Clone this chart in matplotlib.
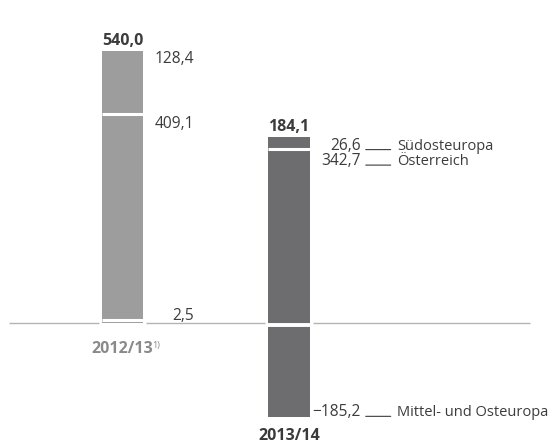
import matplotlib
matplotlib.use('Agg')
import matplotlib.pyplot as plt
from matplotlib.transforms import offset_copy
import numpy as np

# data (Mio. EUR)
years = ['2012/13', '2013/14']
footnotes = ['1)', '']
regions = ['Mittel- und Osteuropa', 'Österreich', 'Südosteuropa']
mittel_osteuropa = [2.5, -185.2]
oesterreich = [409.1, 342.7]
suedosteuropa = [128.4, 26.6]
totals = [540.0, 184.1]

bar_colors = ['#9d9d9d', '#6d6d6f']
year_colors = ['#8a8a8a', '#3a3a3a']
text_color = '#3c3c3c'
line_color = '#b4b4b4'

plt.rcParams['font.family'] = ['Open Sans', 'DejaVu Sans']
FS = 10.5       # region names
FS_NUM = 11.2   # values
FS_BOLD = 11.5  # totals and years

fig = plt.figure(figsize=(5.53, 4.43), dpi=100)
ax = fig.add_axes([0, 0, 1, 1])
ax.set_xlim(-0.736, 2.586)
ax.set_ylim(-237.0, 640.2)
ax.axis('off')

px_per_unit = 443 / (640.2 + 237.0)


def shift(dx, dy):
    return offset_copy(ax.transData, fig=fig, x=dx, y=dy, units='dots')


def fmt(v):
    return f'{v:.1f}'.replace('.', ',').replace('-', '\u2212')


x = np.arange(len(years))
w = 0.249
pad = 3 / 166.5

# baseline with small gaps around the bars
edges = [x[0] - 0.682]
for xi in x:
    edges += [xi - w / 2 - pad, xi + w / 2 + pad]
edges.append(x[-1] + 1.45)
for a, b in zip(edges[::2], edges[1::2]):
    ax.plot([a, b], [0, 0], color=line_color, lw=1.0, solid_capstyle='butt', zorder=1)

series = [mittel_osteuropa, oesterreich, suedosteuropa]
year_texts = []

for i in range(len(years)):
    pos_bottom = 0.0
    neg_bottom = 0.0
    segs = []  # (lo, hi, value, region index)
    for k, vals in enumerate(series):
        v = vals[i]
        if v >= 0:
            segs.append((pos_bottom, pos_bottom + v, v, k))
            ax.bar(x[i], v, bottom=pos_bottom, width=w, color=bar_colors[i],
                   linewidth=0, zorder=2)
            pos_bottom += v
        else:
            segs.append((neg_bottom + v, neg_bottom, v, k))
            ax.bar(x[i], v, bottom=neg_bottom, width=w, color=bar_colors[i],
                   linewidth=0, zorder=2)
            neg_bottom += v

    # white separators, placed inside the segment farther from zero
    pos_segs = sorted([s for s in segs if s[2] >= 0], key=lambda s: s[0])
    for s in pos_segs[1:]:
        ax.plot([x[i] - w / 2, x[i] + w / 2], [s[0], s[0]], color='white',
                lw=2.2, solid_capstyle='butt', transform=shift(0, 1.6), zorder=3)
    if neg_bottom < 0:
        ax.plot([x[i] - w / 2, x[i] + w / 2], [0, 0], color='white',
                lw=2.8, solid_capstyle='butt', transform=shift(0, -2.0), zorder=3)

    # total above the bar
    ax.text(x[i], pos_bottom, fmt(totals[i]), transform=shift(0, 5.7),
            ha='center', va='baseline', fontsize=FS_BOLD, fontweight='bold',
            color=text_color)

    # segment values, stacked top-down with a minimum line spacing
    xr = x[i] + w / 2
    last_base = None
    labels = []
    for lo, hi, v, k in sorted(segs, key=lambda s: -s[1]):
        if v < 0:
            y, dy = lo, 0.5
        elif (hi - lo) * px_per_unit < 10:
            y, dy = 0, 3.3
        else:
            y, dy = hi, -12.8
        base_px = (640.2 - y) * px_per_unit - dy
        if last_base is not None and base_px - last_base < 15.5:
            dy -= 15.5 - (base_px - last_base)
            base_px = last_base + 15.5
        last_base = base_px
        labels.append((y, dy, v, k))

    for y, dy, v, k in labels:
        ax.text(xr, y, fmt(v), transform=shift(51, dy), ha='right',
                va='baseline', fontsize=FS_NUM, color=text_color)
        if i == len(years) - 1:
            ax.annotate('', xy=(xr, y), xycoords=shift(81, dy),
                        xytext=(xr, y), textcoords=shift(56, dy),
                        arrowprops=dict(arrowstyle='-', color=text_color, lw=0.8,
                                        shrinkA=0, shrinkB=0))
            ax.text(xr, y, regions[k], transform=shift(87.5, dy), ha='left',
                    va='baseline', fontsize=FS, color=text_color)

    # year label under the bar
    if neg_bottom < 0:
        yl, dyl = neg_bottom, -23
    else:
        yl, dyl = 0, -29.4
    t = ax.text(x[i], yl, years[i], transform=shift(0, dyl), ha='center',
                va='baseline', fontsize=FS_BOLD, fontweight='bold', color=year_colors[i])
    year_texts.append((t, yl, dyl))

# footnote marks as superscripts right after the year labels
fig.canvas.draw()
renderer = fig.canvas.get_renderer()
for i, (t, yl, dyl) in enumerate(year_texts):
    if footnotes[i]:
        bb = t.get_window_extent(renderer)
        cx = ax.transData.transform((x[i], yl))[0]
        ax.text(x[i], yl, footnotes[i], transform=shift(bb.x1 - cx - 1.5, dyl + 5.0),
                ha='left', va='baseline', fontsize=6.5, color=year_colors[i])

fig.savefig('out.png', dpi=100)
